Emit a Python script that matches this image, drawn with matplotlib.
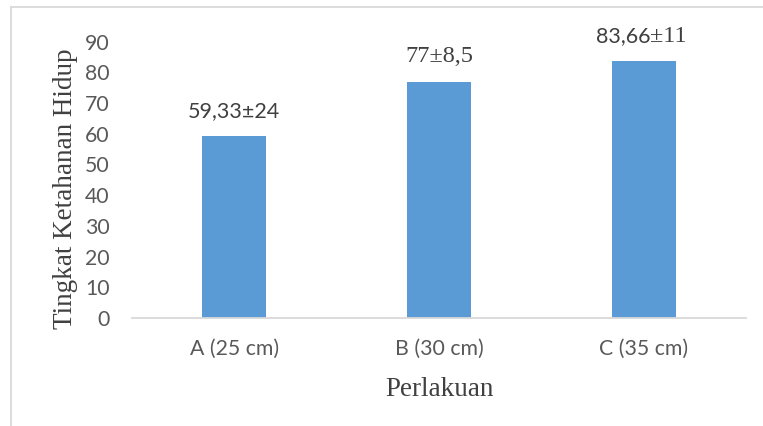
import matplotlib
matplotlib.use("Agg")
import matplotlib.pyplot as plt
from matplotlib.lines import Line2D

categories = ["A (25 cm)", "B (30 cm)", "C (35 cm)"]
values = [59.33, 77, 83.66]
label_main = ["59,33±24", "", "83,66"]
label_serif = ["", "77±8,5", "±11"]
yticks = [0, 10, 20, 30, 40, 50, 60, 70, 80, 90]

W, H = 763, 426
fig = plt.figure(figsize=(W / 100, H / 100), dpi=100)
fig.patch.set_facecolor("white")

# outer chart border (cropped)
bc = "#d9d9d9"
fig.add_artist(Line2D([11 / W, 11 / W], [0, 1 - 7 / H], transform=fig.transFigure, color=bc, lw=1.3))
fig.add_artist(Line2D([11 / W, 1], [1 - 7 / H, 1 - 7 / H], transform=fig.transFigure, color=bc, lw=1.3))

ax = fig.add_axes([132 / W, 1 - 318 / H, (746 - 132) / W, (318 - 41.7) / H])
x = range(len(categories))
bars = ax.bar(x, values, width=0.313, color="#5b9bd5", zorder=2)
ax.set_xlim(-0.5, 2.5)
ax.set_ylim(0, 90)
ax.set_yticks(yticks)
ax.set_xticks(list(x))
ax.set_xticklabels(categories)
for s in ["top", "right", "left"]:
    ax.spines[s].set_visible(False)
ax.spines["bottom"].set_color("#d9d9d9")
ax.spines["bottom"].set_linewidth(1.3)
ax.tick_params(axis="both", length=0, labelcolor="#595959", labelsize=15.3)
ax.tick_params(axis="y", pad=16)
ax.tick_params(axis="x", pad=15)
for lab in ax.get_xticklabels() + ax.get_yticklabels():
    lab.set_fontfamily("Lato")

sans = "Lato"
serif = "Liberation Serif"
tc = "#404040"
off = 10.5
for i, b in enumerate(bars):
    cx = b.get_x() + b.get_width() / 2
    top = b.get_height()
    m, s = label_main[i], label_serif[i]
    if m and s:
        ax.annotate(m, (cx, top), xytext=(4.7, off), textcoords="offset points",
                    ha="right", va="bottom", fontsize=15.5, family=sans, color=tc)
        ax.annotate(s, (cx, top), xytext=(4.7, off), textcoords="offset points",
                    ha="left", va="bottom", fontsize=17.5, family=serif, color=tc)
    elif m:
        ax.annotate(m, (cx, top), xytext=(0, off), textcoords="offset points",
                    ha="center", va="bottom", fontsize=15.5, family=sans, color=tc)
    else:
        ax.annotate(s, (cx, top), xytext=(0, off), textcoords="offset points",
                    ha="center", va="bottom", fontsize=17.5, family=serif, color=tc)

fig.text(66 / W, 1 - 189 / H, "Tingkat Ketahanan Hidup", rotation=90, ha="center", va="center",
         fontsize=19.5, family=serif, color=tc)
fig.text(439 / W, 1 - 389 / H, "Perlakuan", ha="center", va="center",
         fontsize=19.5, family=serif, color=tc)

fig.savefig("out.png", dpi=100)
